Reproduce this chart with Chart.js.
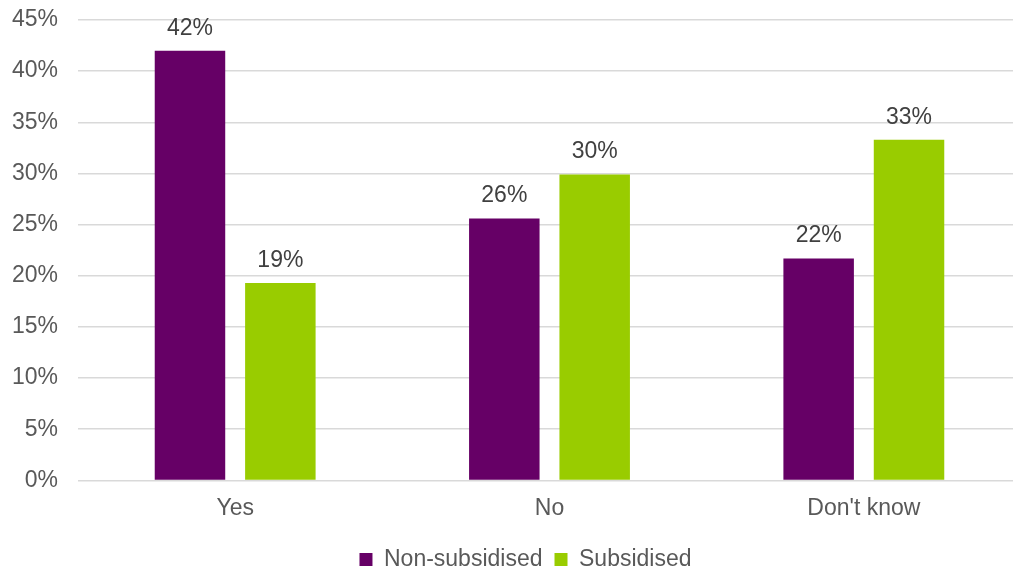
<!DOCTYPE html>
<html>
<head>
<meta charset="utf-8">
<script src="https://cdn.jsdelivr.net/npm/chart.js@4"></script>
<style>
  html, body { margin: 0; padding: 0; background: #fff; overflow: hidden; }
  #wrap { width: 1013px; height: 572px; overflow: hidden; }
</style>
</head>
<body>
<div id="wrap"><canvas id="chart" width="1021" height="572"></canvas></div>
<script>
const categories = ['Yes', 'No', "Don't know"];
const nonSubsidised = [42.0, 25.6, 21.7];
const subsidised = [19.3, 29.9, 33.3];
const yTicks = [0, 5, 10, 15, 20, 25, 30, 35, 40, 45];

const FONT = '"Liberation Sans", Arial, sans-serif';

// labels above each bar, rounded like the original
const barLabels = {
  id: 'barLabels',
  afterLayout(chart) {
    // the legend sits a little right of centre in the original
    chart.legend.left += 12;
    chart.legend.right += 12;
  },
  afterDatasetsDraw(chart) {
    const ctx = chart.ctx;
    ctx.save();
    ctx.font = '23px ' + FONT;
    ctx.fillStyle = '#404040';
    ctx.textAlign = 'center';
    ctx.textBaseline = 'alphabetic';
    chart.data.datasets.forEach((ds, i) => {
      chart.getDatasetMeta(i).data.forEach((bar, j) => {
        ctx.fillText(Math.round(ds.data[j]) + '%', bar.x, bar.y - 16);
      });
    });
    ctx.restore();
  }
};

new Chart(document.getElementById('chart').getContext('2d'), {
  type: 'bar',
  data: {
    labels: categories,
    datasets: [{
      label: 'Non-subsidised',
      data: nonSubsidised,
      backgroundColor: '#660066',
      categoryPercentage: 0.575,
      barPercentage: 0.78
    }, {
      label: 'Subsidised',
      data: subsidised,
      backgroundColor: '#99CC00',
      categoryPercentage: 0.575,
      barPercentage: 0.78
    }]
  },
  options: {
    responsive: false,
    animation: false,
    layout: { padding: { left: 6, right: 0, top: 0, bottom: -9 } },
    plugins: {
      tooltip: { enabled: false },
      legend: {
        position: 'bottom',
        labels: {
          color: '#595959',
          font: { family: FONT, size: 23 },
          boxWidth: 13,
          boxHeight: 13,
          padding: 12
        }
      }
    },
    scales: {
      x: {
        grid: { display: false, drawTicks: false },
        border: { display: false },
        ticks: {
          color: '#595959',
          font: { family: FONT, size: 23 },
          padding: 14
        }
      },
      y: {
        min: 0,
        max: 45,
        afterBuildTicks(axis) {
          axis.ticks = yTicks.map(v => ({ value: v }));
        },
        afterFit(axis) {
          axis.width = 72;
          axis.paddingTop = 20;
        },
        grid: { color: '#d9d9d9', lineWidth: 1.5, drawTicks: false },
        border: { display: false },
        ticks: {
          color: '#595959',
          font: { family: FONT, size: 23 },
          padding: 20,
          callback: v => v + '%'
        }
      }
    }
  },
  plugins: [barLabels]
});
</script>
</body>
</html>
